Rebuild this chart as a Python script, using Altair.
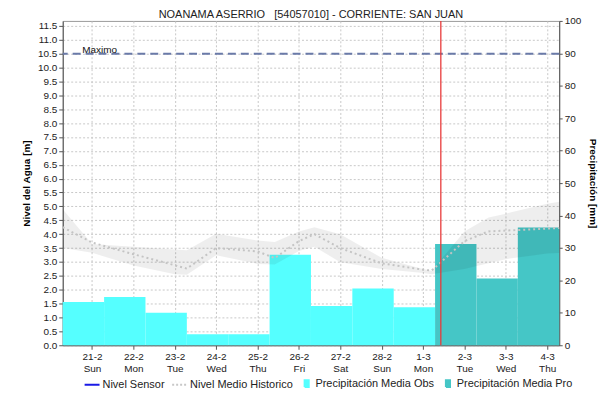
import altair as alt
import pandas as pd
import numpy as np

titulo = "NOANAMA ASERRIO \u00a0\u00a0[54057010] - CORRIENTE: SAN JUAN"

# Days (label = midnight of each day); precipitation bar covers previous day 07:00 -> day 07:00
dias = ["2021-02-21", "2021-02-22", "2021-02-23", "2021-02-24", "2021-02-25", "2021-02-26",
        "2021-02-27", "2021-02-28", "2021-03-01", "2021-03-02", "2021-03-03", "2021-03-04"]
precip_obs = [13.3, 14.9, 10.0, 3.4, 3.4, 27.9, 12.1, 17.5, 11.7]
precip_pro = [31.2, 20.6, 36.3]

# Historic level band and mean (m)
hist_tiempo = ["2021-02-20T07:00", "2021-02-21T00:00", "2021-02-22T00:00", "2021-02-23T00:00",
               "2021-02-23T07:00", "2021-02-24T00:00", "2021-02-25T00:00", "2021-02-25T10:00",
               "2021-02-26T00:00", "2021-02-26T09:00", "2021-02-27T00:00", "2021-02-28T00:00",
               "2021-03-01T00:00", "2021-03-01T05:00", "2021-03-02T00:00", "2021-03-02T14:00",
               "2021-03-03T00:00", "2021-03-04T00:00", "2021-03-04T07:00"]
hist_superior = [4.9, 3.65, 3.55, 3.45, 3.42, 4.02, 3.77, 3.72, 4.1, 4.25, 4.0, 3.15,
                 2.75, 2.68, 4.1, 4.6, 4.74, 5.1, 5.17]
hist_inferior = [3.5, 3.33, 2.87, 2.56, 2.54, 3.24, 2.93, 2.91, 3.39, 3.55, 2.99, 2.75,
                 2.6, 2.56, 2.75, 2.95, 3.1, 3.3, 3.32]
hist_medio = [4.25, 3.7, 3.28, 2.88, 2.76, 3.5, 3.38, 3.14, 3.75, 4.0, 3.5, 2.95,
              2.72, 2.69, 3.75, 4.1, 4.13, 4.2, 4.22]

nivel_maximo = 10.5
nivel_tope = 11.68
hora_actual = (2021, 3, 1, 10, 20)

series = ["Nivel Sensor", "Nivel Medio Historico", "Precipitación Media Obs", "Precipitación Media Pro"]
color_obs = "#55FFFF"
color_pro = "#45C6C6"
colores_trazo = ["#1A1AE6", "#C8C8C8", color_obs, color_pro]
colores_relleno = ["transparent", "transparent", color_obs, color_pro]
cuadro = "M-0.05,-0.45H0.5V0.45H-0.05Z"
formas = ["stroke", "stroke", cuadro, cuadro]
trazos = [[1, 0], [2, 2], [1, 0], [1, 0]]

FONT = "Liberation Sans"

# ---- data frames
dia_dt = pd.to_datetime(dias)
df_bar = pd.DataFrame({
    "inicio": dia_dt - pd.Timedelta(hours=17),
    "fin": dia_dt + pd.Timedelta(hours=7),
    "mm": precip_obs + precip_pro,
    "tipo": ["obs"] * len(precip_obs) + ["pro"] * len(precip_pro),
})
df_hist = pd.DataFrame({
    "tiempo": pd.to_datetime(hist_tiempo),
    "sup": hist_superior,
    "inf": hist_inferior,
    "medio": hist_medio,
})
df_max = pd.DataFrame({"nivel": [nivel_maximo], "txt": ["Maximo"]})

def dt(y, m, d, h=0, mi=0):
    return alt.DateTime(year=y, month=m, date=d, hours=h, minutes=mi)

x_scale = alt.Scale(domain=[dt(2021, 2, 20, 7), dt(2021, 3, 4, 7)])
x_axis = alt.Axis(
    values=[dt(d.year, d.month, d.day) for d in dia_dt],
    labelExpr="[timeFormat(datum.value, '%-d-%-m'), timeFormat(datum.value, '%a')]",
    labelFontSize=10, labelColor="#222", labelLineHeight=12, labelPadding=2,
    grid=True, gridDash=[2, 2], gridColor="#C8C8C8", tickSize=4, tickColor="#555",
    domainColor="#555", labelFont=FONT,
)

ylev_scale = alt.Scale(domain=[0, nivel_tope], nice=False)
ylev_axis = alt.Axis(
    orient="left", values=[float(v) for v in np.round(np.arange(0, 11.51, 0.5), 1)], format=".1f",
    title="Nivel del Agua [m]", titleFontSize=10, titleFontWeight="bold", titlePadding=6,
    labelFontSize=10, labelColor="#222", grid=True, gridDash=[2, 2], gridColor="#C8C8C8",
    tickSize=4, tickColor="#555", domainColor="#555", labelPadding=2,
)
ypre_scale = alt.Scale(domain=[0, 100], nice=False)
ypre_axis = alt.Axis(
    orient="right", values=list(range(0, 101, 10)), title="Precipitación [mm]",
    titleFontSize=10, titleFontWeight="bold", titlePadding=7, labelFontSize=10,
    labelColor="#222", grid=False, tickSize=3, tickColor="#555", domainColor="#555", labelPadding=2,
)

barras = alt.Chart(df_bar).mark_rect(opacity=1).encode(
    x=alt.X("inicio:T", scale=x_scale, axis=x_axis, title=None),
    x2="fin:T",
    y=alt.Y("mm:Q", scale=ypre_scale, axis=ypre_axis),
    y2=alt.Y2(datum=0),
    color=alt.Color("tipo:N", scale=alt.Scale(domain=["obs", "pro"], range=[color_obs, color_pro]), legend=None),
)

banda = alt.Chart(df_hist).mark_area(color="#000000", opacity=0.065).encode(
    x=alt.X("tiempo:T", scale=x_scale, axis=x_axis, title=None),
    y=alt.Y("sup:Q", scale=ylev_scale, axis=ylev_axis, title="Nivel del Agua [m]"),
    y2="inf:Q",
)
medio = alt.Chart(df_hist).mark_line(color="#C4C4C4", strokeDash=[2, 3], strokeWidth=2).encode(
    x=alt.X("tiempo:T", scale=x_scale, axis=x_axis, title=None),
    y=alt.Y("medio:Q", scale=ylev_scale, axis=ylev_axis, title="Nivel del Agua [m]"),
)
maximo = alt.Chart(df_max).mark_rule(color="#6A7AA8", strokeDash=[8, 5], strokeWidth=2).encode(
    y=alt.Y("nivel:Q", scale=ylev_scale, axis=ylev_axis, title="Nivel del Agua [m]"),
)
maximo_txt = alt.Chart(df_max).mark_text(fontSize=10, align="center", baseline="alphabetic",
                                         dy=-1, color="#111", font=FONT).encode(
    x=alt.value(37),
    y=alt.Y("nivel:Q", scale=ylev_scale, axis=ylev_axis, title="Nivel del Agua [m]"),
    text="txt:N",
)
nivel = alt.layer(banda, medio, maximo, maximo_txt)

ahora = alt.Chart(df_max).mark_rule(color="#E83A3A", strokeWidth=1.3).encode(
    x=alt.X(datum=dt(*hora_actual), type="temporal", scale=x_scale, axis=x_axis, title=None),
)

leg = alt.Legend(orient="none", legendX=21, legendY=356, direction="horizontal", title=None,
                 symbolSize=225, symbolStrokeWidth=2, labelFontSize=11, labelOffset=2,
                 columnPadding=3, labelColor="#222", labelFont=FONT)
leyenda = alt.Chart(pd.DataFrame({"serie": series})).transform_filter("false").mark_point(
    filled=True, opacity=1).encode(
    fill=alt.Fill("serie:N", scale=alt.Scale(domain=series, range=colores_relleno), legend=leg),
    stroke=alt.Stroke("serie:N", scale=alt.Scale(domain=series, range=colores_trazo), legend=leg),
    shape=alt.Shape("serie:N", scale=alt.Scale(domain=series, range=formas), legend=leg),
    strokeDash=alt.StrokeDash("serie:N", scale=alt.Scale(domain=series, range=trazos), legend=leg),
)

chart = alt.layer(barras, nivel, ahora, leyenda).resolve_scale(y="independent").properties(
    width=499, height=326,
    title=alt.TitleParams(text=titulo, fontSize=11, fontWeight="normal", offset=4, dy=8,
                          anchor="middle", color="#222", font=FONT, frame="group"),
    autosize=alt.AutoSizeParams(type="none"),
    padding={"left": 55, "top": 12, "right": 39, "bottom": 46},
).configure(font=FONT).configure_view(stroke="#999999").configure_axis(labelFont=FONT, titleFont=FONT)

chart.save("out.html", embed_options={"renderer": "svg", "actions": False})
